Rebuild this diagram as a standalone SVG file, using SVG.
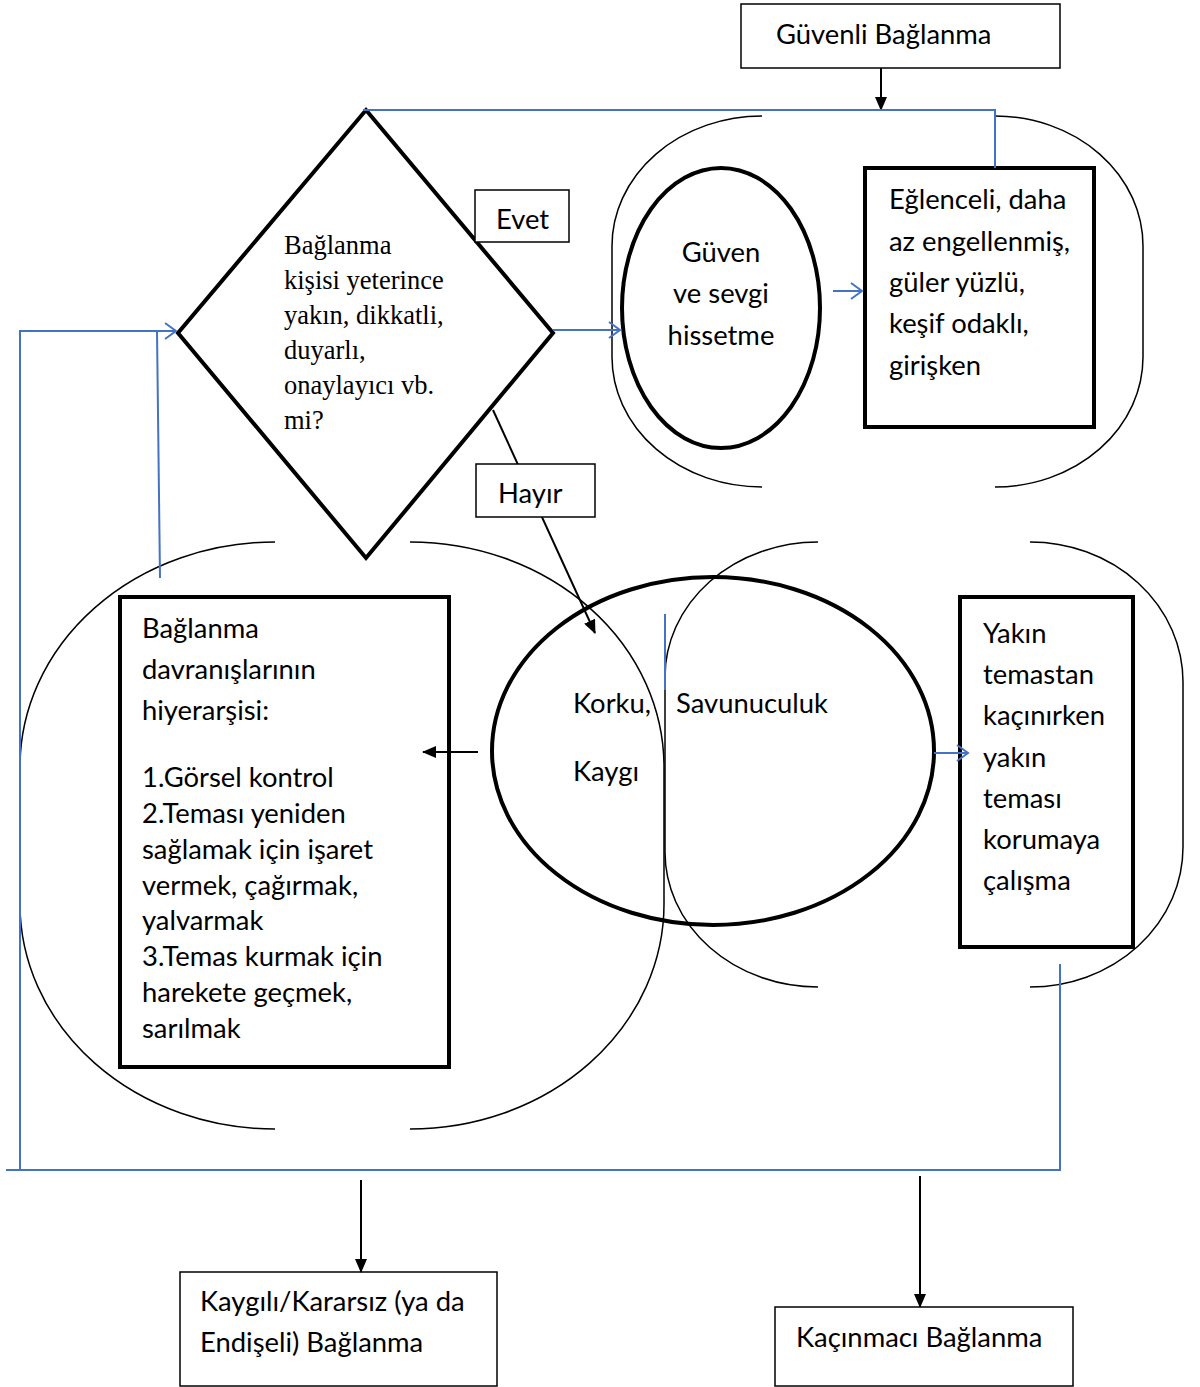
<svg xmlns="http://www.w3.org/2000/svg" width="1200" height="1387" viewBox="0 0 1200 1387">
<style>
.c{font-family:Lato,"Liberation Sans",sans-serif;font-size:27.4px;fill:#000}
.t{font-family:"Liberation Serif",serif;font-size:26.5px;fill:#000}
.thin{fill:none;stroke:#000;stroke-width:1.5}
.thick{fill:#fff;stroke:#000;stroke-width:4}
.box{fill:#fff;stroke:#000;stroke-width:1.5}
.blue{fill:none;stroke:#4472C4;stroke-width:2}
.blk{fill:none;stroke:#000;stroke-width:2}
</style>
<defs>
<marker id="ah" markerWidth="14" markerHeight="12" refX="13" refY="6" orient="auto" markerUnits="userSpaceOnUse"><path d="M0,0 L14,6 L0,12 Z" fill="#000"/></marker>
<marker id="bh" markerWidth="14" markerHeight="18" refX="12" refY="9" orient="auto" markerUnits="userSpaceOnUse"><path d="M1,1 L12,9 L1,17" fill="none" stroke="#4472C4" stroke-width="2"/></marker>
</defs>
<rect width="1200" height="1387" fill="#fff"/>
<g id="groups">
<path class="thin" d="M762,116 A150,130 0 0 0 612,246 L612,357 A150,130 0 0 0 762,487"/>
<path class="thin" d="M995,116 A148,130 0 0 1 1143,246 L1143,357 A148,130 0 0 1 995,487"/>
</g>
<g id="secure">
<rect class="box" x="741" y="4" width="319" height="64"/>
<text class="c" x="776" y="44">Güvenli Bağlanma</text>
</g>
<g id="decision">
<polygon points="366,110 553,333 366,558 178,333" fill="none" stroke="#000" stroke-width="4"/>
<text class="t"><tspan x="284" y="254">Bağlanma</tspan><tspan x="284" y="289">kişisi yeterince</tspan><tspan x="284" y="324">yakın, dikkatli,</tspan><tspan x="284" y="359">duyarlı,</tspan><tspan x="284" y="394">onaylayıcı vb.</tspan><tspan x="284" y="429">mi?</tspan></text>
</g>
<g id="guven">
<ellipse cx="721" cy="308" rx="99" ry="140" fill="none" stroke="#000" stroke-width="4"/>
<text class="c" text-anchor="middle"><tspan x="721" y="262">Güven</tspan><tspan x="721" y="303">ve sevgi</tspan><tspan x="721" y="345">hissetme</tspan></text>
</g>
<g id="eglenceli">
<rect class="thick" x="865" y="168" width="229" height="259"/>
<text class="c"><tspan x="889" y="209">Eğlenceli, daha</tspan><tspan x="889" y="251">az engellenmiş,</tspan><tspan x="889" y="292">güler yüzlü,</tspan><tspan x="889" y="333">keşif odaklı,</tspan><tspan x="889" y="375">girişken</tspan></text>
</g>
<g id="hiyerarsi">
<rect class="thick" x="120" y="597" width="329" height="470"/>
<text class="c"><tspan x="142" y="638">Bağlanma</tspan><tspan x="142" y="679">davranışlarının</tspan><tspan x="142" y="720">hiyerarşisi:</tspan><tspan x="142" y="787">1.Görsel kontrol</tspan><tspan x="142" y="823">2.Teması yeniden</tspan><tspan x="142" y="859">sağlamak için işaret</tspan><tspan x="142" y="895">vermek, çağırmak,</tspan><tspan x="142" y="930">yalvarmak</tspan><tspan x="142" y="966">3.Temas kurmak için</tspan><tspan x="142" y="1002">harekete geçmek,</tspan><tspan x="142" y="1038">sarılmak</tspan></text>
</g>
<g id="yakin">
<rect class="thick" x="960" y="597" width="173" height="350"/>
<text class="c"><tspan x="983" y="643">Yakın</tspan><tspan x="983" y="684">temastan</tspan><tspan x="983" y="725">kaçınırken</tspan><tspan x="983" y="767">yakın</tspan><tspan x="983" y="808">teması</tspan><tspan x="983" y="849">korumaya</tspan><tspan x="983" y="890">çalışma</tspan></text>
</g>
<g id="groups2">
<path class="thin" d="M275,542 A255,225 0 0 0 20,767 L20,904 A255,225 0 0 0 275,1129"/>
<path class="thin" d="M410,542 A254,225 0 0 1 664,767 L664,904 A254,225 0 0 1 410,1129"/>
<path class="thin" d="M818,542 A153,135 0 0 0 665,677 L665,852 A153,135 0 0 0 818,987"/>
<path class="thin" d="M1030,542 A153,140 0 0 1 1183,682 L1183,847 A153,140 0 0 1 1030,987"/>
</g>
<g id="korku">
<ellipse cx="713" cy="751" rx="221" ry="174" fill="none" stroke="#000" stroke-width="4"/>
<text class="c" x="573" y="713">Korku,</text>
<text class="c" x="573" y="781">Kaygı</text>
<text class="c" x="676" y="713">Savunuculuk</text>
</g>
<g id="kaygili">
<rect class="box" x="180" y="1272" width="317" height="114"/>
<text class="c"><tspan x="200" y="1311">Kaygılı/Kararsız (ya da</tspan><tspan x="200" y="1352">Endişeli) Bağlanma</tspan></text>
</g>
<g id="kacinmaci">
<rect class="box" x="775" y="1307" width="298" height="79"/>
<text class="c" x="796" y="1347">Kaçınmacı Bağlanma</text>
</g>
<g id="connectors">
<line class="blk" x1="881" y1="68" x2="881" y2="110" marker-end="url(#ah)"/>
<polyline class="blue" points="363,110 995,110 995,168"/>
<line class="blue" x1="553" y1="330" x2="620" y2="330" marker-end="url(#bh)"/>
<line class="blue" x1="833" y1="291" x2="862" y2="291" marker-end="url(#bh)"/>
<polyline class="blue" points="20,1170 20,331 176,331" marker-end="url(#bh)"/>
<line class="blue" x1="157" y1="331" x2="160" y2="578"/>
<polyline class="blue" points="6,1170 1060,1170 1060,964"/>
<line class="blue" x1="665" y1="614" x2="665" y2="690"/>
<line class="blk" x1="493" y1="410" x2="595" y2="633" marker-end="url(#ah)"/>
<line class="blk" x1="478" y1="752" x2="423" y2="752" marker-end="url(#ah)"/>
<line class="blue" x1="934" y1="753" x2="968" y2="753" marker-end="url(#bh)"/>
<line class="blk" x1="361" y1="1180" x2="361" y2="1272" marker-end="url(#ah)"/>
<line class="blk" x1="920" y1="1176" x2="920" y2="1307" marker-end="url(#ah)"/>
</g>
<g id="evet">
<rect class="box" x="475" y="190" width="94" height="52"/>
<text class="c" x="496" y="229">Evet</text>
</g>
<g id="hayir">
<rect class="box" x="476" y="464" width="119" height="53"/>
<text class="c" x="498" y="503">Hayır</text>
</g>
</svg>
